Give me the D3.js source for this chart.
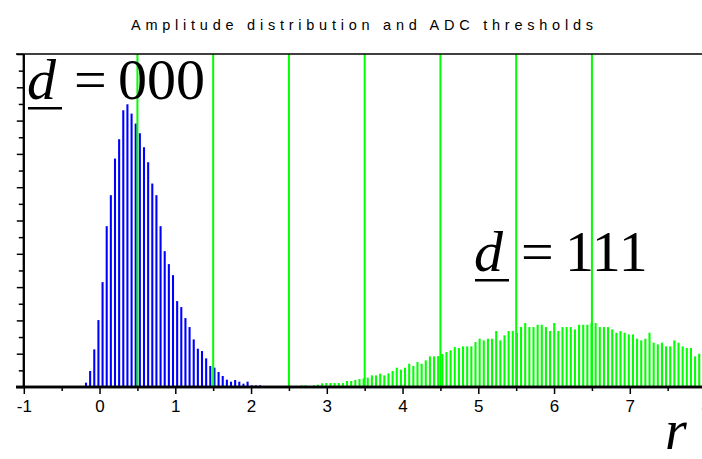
<!DOCTYPE html>
<html><head><meta charset="utf-8">
<script src="https://cdn.jsdelivr.net/npm/d3@7"></script>
<style>body{margin:0;background:#fff}svg{display:block}</style>
</head><body>
<div id="chart"></div>
<script>
// ---- data ----
const title = "Amplitude distribution and ADC thresholds";
const xTickLabels = ["-1","0","1","2","3","4","5","6","7","8"];
const thresholds = [0.5, 1.5, 2.5, 3.5, 4.5, 5.5, 6.5];
const binStart = -0.179;      // centre of first bin (value units)
const binWidth = 0.0547;      // histogram bin width
// symbol "000" histogram, bins 0..43
const blueCounts = [26, 96, 226, 402, 630, 966, 1152, 1372, 1488, 1662, 1698, 1642, 1582, 1524, 1440, 1350,
  1222, 1152, 966, 816, 738, 672, 516, 480, 414, 360, 286, 230, 216, 172, 126, 116, 90, 66, 44, 32,
  42, 32, 20, 32, 10, 10, 10, 6];
const blueFirstBin = 0;
// symbol "111" histogram, bins 52..149
const greenCounts = [10, 10, 5, 10, 14, 22, 24, 24, 24, 24, 24, 36, 36, 42, 48, 51, 56, 70, 70, 80,
  70, 82, 96, 116, 104, 116, 140, 126, 150, 140, 160, 184, 184, 186, 198, 210, 220, 240, 234, 244,
  244, 244, 270, 290, 280, 290, 290, 336, 280, 310, 336, 336, 326, 360, 384, 360, 360, 374, 374, 360,
  336, 384, 336, 360, 360, 360, 346, 374, 374, 374, 384, 384, 360, 360, 360, 346, 326, 336, 326, 316,
  316, 290, 280, 290, 326, 266, 256, 266, 244, 244, 280, 266, 244, 234, 234, 184, 200, 220];
const greenFirstBin = 52;

// ---- layout ----
const W = 702, H = 459;
const svg = d3.select("#chart").append("svg").attr("width", W).attr("height", H);

const x = d3.scaleLinear().domain([-1, 8]).range([23.8, 23.8 + 9 * 75.75]);
const y = d3.scaleLinear().domain([0, 2000]).range([387, 54]);

const blue = blueCounts.map((v, i) => ({c: binStart + (blueFirstBin + i) * binWidth, v}));
const green = greenCounts.map((v, i) => ({c: binStart + (greenFirstBin + i) * binWidth, v}));
const barW = x(binWidth * 0.5) - x(0);

svg.append("text").attr("x", 131).attr("y", 30)
  .attr("textLength", 462).attr("lengthAdjust", "spacing")
  .style("font-family", "Liberation Sans, Arial, sans-serif").style("font-size", "14.5px")
  .text(title);

// bars
svg.append("g").selectAll("rect").data(blue).join("rect")
  .attr("x", d => x(d.c) - barW / 2).attr("width", barW)
  .attr("y", d => y(d.v)).attr("height", d => y(0) - y(d.v))
  .attr("fill", "#0000ff");
svg.append("g").selectAll("rect").data(green).join("rect")
  .attr("x", d => x(d.c) - barW / 2).attr("width", barW)
  .attr("y", d => y(d.v)).attr("height", d => y(0) - y(d.v))
  .attr("fill", "#00ff00");

// thresholds
svg.append("g").selectAll("line").data(thresholds).join("line")
  .attr("x1", d => x(d)).attr("x2", d => x(d))
  .attr("y1", y(2000)).attr("y2", y(0))
  .attr("stroke", "#00ff00").attr("stroke-width", 2);

// frame line at top
svg.append("line").attr("x1", 16).attr("x2", W).attr("y1", y(2000)).attr("y2", y(2000))
  .attr("stroke", "#000").attr("stroke-width", 1.5);

// y axis (no labels)
const yAxisMinor = d3.axisLeft(y).tickValues(d3.range(100, 2000, 200)).tickSize(5).tickFormat("");
const yAxisMajor = d3.axisLeft(y).tickValues(d3.range(0, 2001, 200)).tickSize(7).tickFormat("");
const gy1 = svg.append("g").attr("transform", `translate(${x(-1)},0)`).call(yAxisMinor);
const gy2 = svg.append("g").attr("transform", `translate(${x(-1)},0)`).call(yAxisMajor);
[gy1, gy2].forEach(g => {
  g.select(".domain").attr("stroke-width", 2).attr("d", `M0,${y(2000)}V${y(0)}`);
  g.selectAll(".tick line").attr("stroke-width", 1.5);
});

// x axis
const xAxisMinor = d3.axisBottom(x).tickValues(d3.range(-0.5, 8, 1)).tickSize(4).tickFormat("");
const xAxisMajor = d3.axisBottom(x).tickValues(d3.range(-1, 9, 1)).tickSize(7)
  .tickFormat((d, i) => xTickLabels[i]).tickPadding(6);
const gx1 = svg.append("g").attr("transform", `translate(0,${y(0)})`).call(xAxisMinor);
const gx2 = svg.append("g").attr("transform", `translate(0,${y(0)})`).call(xAxisMajor);
[gx1, gx2].forEach(g => {
  g.select(".domain").attr("stroke-width", 2.5).attr("d", `M16,0H${W}`);
  g.selectAll(".tick line").attr("stroke-width", 1.5);
});
gx2.selectAll(".tick text").style("font-family", "Liberation Sans, Arial, sans-serif")
  .style("font-size", "17px").attr("fill", "#000");

// annotations
const serif = "Liberation Serif, Times New Roman, serif";
function label(xd, yb, digits) {
  const g = svg.append("g");
  g.append("text").attr("x", xd).attr("y", yb).style("font-family", serif)
    .style("font-size", "58px").style("font-style", "italic").text("d");
  g.append("rect").attr("x", xd + 1).attr("y", yb + 8).attr("width", 34).attr("height", 2.5).attr("fill", "#000");
  g.append("text").attr("x", xd + 47).attr("y", yb).style("font-family", serif)
    .style("font-size", "58px").text("=");
  g.append("text").attr("x", xd + 91).attr("y", yb).style("font-family", serif)
    .style("font-size", "58px").text(digits);
}
label(27, 99, "000");
label(474, 271, "111");
svg.append("text").attr("x", 665).attr("y", 449).style("font-family", serif)
  .style("font-size", "56px").style("font-style", "italic").text("r");
</script>
</body></html>
